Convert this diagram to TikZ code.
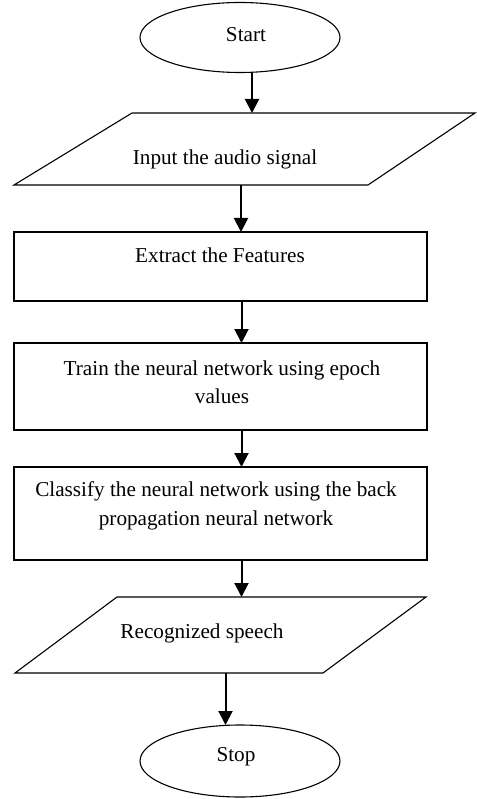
\documentclass[tikz,border=0pt]{standalone}
\usepackage{fontspec}
\setmainfont{Liberation Serif}
\usetikzlibrary{shapes.geometric,arrows.meta}
\tikzset{>={Triangle[length=14pt,width=14pt]}}

\begin{document}
\begin{tikzpicture}[x=1pt,y=-1pt,
    termbox/.style={draw,ellipse,line width=1.1pt,minimum width=200pt,minimum height=70pt,inner sep=0pt,outer sep=0pt},
    iobox/.style={rectangle,inner sep=0pt,outer sep=0pt},
    procbox/.style={draw,rectangle,line width=1.1pt,minimum width=413pt,inner sep=0pt,outer sep=0pt},
    ioline/.style={line width=1.1pt,line join=miter},
    txt/.style={inner sep=0pt,align=center,font=\fontsize{21.2}{28.5}\selectfont},
    arr/.style={->,line width=2pt}]
    \useasboundingbox (0,0) rectangle (476,799);

    % shapes
    \node[termbox] (start) at (240,37.5) {};
    \node[iobox,minimum width=461pt,minimum height=72pt] (in) at (244.5,149) {};
    \draw[ioline] ([xshift=118pt]in.north west) -- (in.north east)
        -- ([xshift=-107pt]in.south east) -- (in.south west) -- cycle;
    \node[procbox,minimum height=69pt] (feat) at (220.5,266.5) {};
    \node[procbox,minimum height=87pt] (train) at (220.5,386.5) {};
    \node[procbox,minimum height=93pt] (class) at (220.5,513.5) {};
    \node[iobox,minimum width=411pt,minimum height=76pt] (rec) at (220.5,635) {};
    \draw[ioline] ([xshift=102pt]rec.north west) -- (rec.north east)
        -- ([xshift=-103pt]rec.south east) -- (rec.south west) -- cycle;
    \node[termbox,minimum height=72pt] (stop) at (240,761) {};

    % texts
    \node[txt,xshift=6pt,yshift=2.5pt] (start-txt) at (start) {Start};
    \node[txt,xshift=-19.5pt,yshift=-10pt] (in-txt) at (in) {Input the audio signal};
    \node[txt,xshift=-0.5pt,yshift=11.5pt] (feat-txt) at (feat) {Extract the Features};
    \node[txt,xshift=1.5pt,yshift=4.5pt] (train-txt) at (train) {Train the neural network using epoch\\values};
    \node[txt,xshift=-4.5pt,yshift=7.5pt] (class-txt) at (class) {Classify the neural network using the back\\propagation neural network};
    \node[txt,xshift=-18.5pt,yshift=2pt] (rec-txt) at (rec) {Recognized speech};
    \node[txt,xshift=-4pt,yshift=4pt] (stop-txt) at (stop) {Stop};

    % arrows
    \draw[arr] ([xshift=12pt]start.south) -- ([xshift=7.5pt]in.north);
    \draw[arr] ([xshift=-3.5pt]in.south) -- ([xshift=20.5pt]feat.north);
    \draw[arr] ([xshift=21pt]feat.south) -- ([xshift=21pt]train.north);
    \draw[arr] ([xshift=21pt]train.south) -- ([xshift=21pt]class.north);
    \draw[arr] ([xshift=21pt]class.south) -- ([xshift=21pt]rec.north);
    \draw[arr] ([xshift=5pt]rec.south) -- ([xshift=-14.5pt]stop.north);
\end{tikzpicture}
\end{document}
